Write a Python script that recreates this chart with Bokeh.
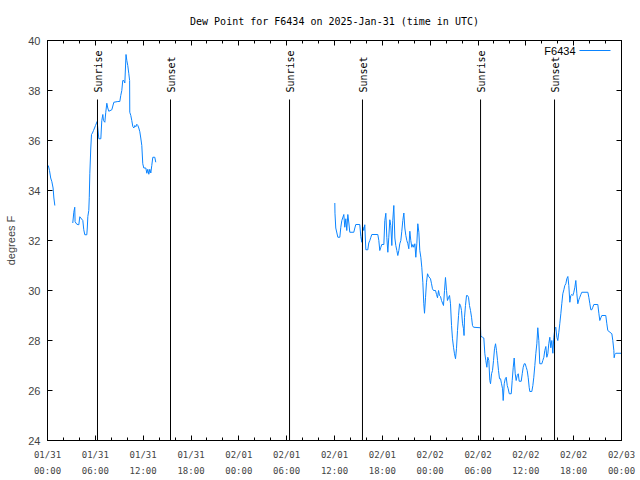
import math
from bokeh.plotting import figure
from bokeh.models import FixedTicker, LinearAxis
from bokeh.core.properties import value
from bokeh.embed import file_html
from bokeh.resources import INLINE

# ---- data (hours since 2025-01-31 00:00 UTC, dew point in degrees F) ----
seg1_hours = [0.10, 0.25, 0.40, 0.55, 0.70, 0.80, 0.92]
seg1_dew = [35.0, 34.8, 34.5, 34.35, 34.1, 33.7, 33.4]

seg2_hours = [3.17, 3.30, 3.42, 3.46, 3.68, 3.93, 4.05, 4.43, 4.55, 4.68,
              4.93, 4.99, 5.06, 5.18, 5.24, 5.31, 5.43, 5.52, 5.64, 5.77,
              5.90, 6.02, 6.23, 6.31, 6.44, 6.69, 6.81, 6.94, 7.02, 7.19,
              7.31, 7.44, 7.56, 7.69, 8.07, 8.32, 8.82, 9.07, 9.19, 9.32,
              9.44, 9.57, 9.70, 9.78, 9.85, 9.95, 10.07, 10.20, 10.30, 10.32,
              10.45, 10.57, 10.70, 10.83, 10.95, 11.08, 11.20, 11.33, 11.45, 11.58,
              11.70, 11.83, 11.95, 12.08, 12.33, 12.46, 12.58, 12.71, 12.83, 12.96,
              13.08, 13.21, 13.46, 13.58]
seg2_dew = [32.7, 33.13, 33.33, 32.75, 32.65, 32.63, 32.95, 32.8, 32.43, 32.23,
            32.23, 32.5, 32.96, 33.2, 33.73, 34.69, 35.7, 36.24, 36.3, 36.4,
            36.5, 36.6, 36.76, 36.5, 36.07, 36.07, 36.8, 37.04, 36.8, 36.73,
            37.13, 37.49, 37.3, 37.17, 37.23, 37.53, 37.56, 37.56, 37.8, 38.0,
            38.4, 38.4, 38.3, 38.9, 39.44, 39.2, 39.0, 38.67, 38.4, 37.13,
            37.0, 36.8, 36.56, 36.5, 36.6, 36.55, 36.65, 36.6, 36.5, 36.35,
            36.1, 35.8, 35.07, 34.9, 34.9, 34.69, 34.85, 34.65, 34.85, 34.7,
            35.0, 35.33, 35.33, 35.13]

seg3_hours = [36.04, 36.06, 36.16, 36.42, 36.67, 36.79, 36.92, 37.17, 37.29, 37.42,
              37.54, 37.67, 37.80, 37.92, 38.42, 38.55, 38.67, 39.17, 39.30, 39.43,
              39.55, 39.68, 39.80, 39.93, 40.18, 40.30, 40.43, 40.56, 40.68, 41.43,
              41.56, 41.68, 41.81, 41.93, 42.19, 42.31, 42.44, 42.56, 42.69, 42.81,
              42.94, 43.06, 43.19, 43.31, 43.44, 43.57, 43.69, 43.82, 43.94, 44.07,
              44.19, 44.32, 44.44, 44.57, 44.70, 44.82, 44.95, 45.07, 45.20, 45.32,
              45.45, 45.57, 45.70, 45.83, 45.95, 46.08, 46.20, 46.33, 46.45, 46.58,
              46.70, 46.83, 46.95, 47.08, 47.20, 47.29, 47.42, 47.54, 47.67, 47.79,
              48.04, 48.17, 48.29, 48.42, 48.67, 48.80, 48.92, 49.05, 49.17, 49.30,
              49.42, 49.55, 49.67, 49.80, 49.92, 50.05, 50.17, 50.30, 50.43, 50.55,
              50.68, 50.80, 50.93, 51.05, 51.18, 51.30, 51.43, 51.56, 51.68, 51.81,
              51.93, 52.06, 52.18, 52.25, 52.31, 52.43, 52.56, 52.68, 52.81, 52.93,
              53.06, 53.19, 53.31, 53.44, 54.31, 54.35, 54.57, 54.73, 54.86, 54.98,
              55.11, 55.23, 55.36, 55.48, 55.57, 55.70, 55.82, 55.95, 56.07, 56.20,
              56.32, 56.45, 56.57, 56.70, 56.83, 56.95, 57.08, 57.16, 57.29, 57.42,
              57.54, 57.67, 57.79, 57.92, 58.17, 58.29, 58.42, 58.54, 58.67, 58.79,
              58.92, 59.05, 59.17, 59.42, 59.55, 59.67, 59.80, 59.92, 60.05, 60.17,
              60.30, 60.42, 60.50, 60.75, 60.88, 61.00, 61.13, 61.25, 61.38, 61.50,
              61.63, 61.75, 62.01, 62.13, 62.26, 62.38, 62.51, 62.63, 62.76, 62.88,
              63.01, 63.13, 63.26, 63.39, 63.51, 63.64, 63.76, 63.89, 64.01, 64.14,
              64.26, 64.39, 64.51, 64.64, 64.77, 64.89, 65.02, 65.14, 65.27, 65.39,
              65.52, 65.64, 65.77, 65.89, 66.02, 66.15, 66.27, 66.40, 66.52, 66.65,
              66.77, 66.90, 67.02, 67.78, 67.90, 68.03, 68.15, 68.28, 68.40, 68.53,
              69.03, 69.16, 69.28, 69.41, 69.53, 70.03, 70.16, 70.28, 70.79, 70.91,
              71.04, 71.08, 71.16, 71.29, 71.96]
seg3_dew = [33.5, 33.09, 32.5, 32.13, 32.13, 32.53, 32.8, 33.04, 32.53, 32.87,
            32.4, 33.04, 32.7, 32.33, 32.33, 32.5, 32.64, 32.64, 32.16, 31.93,
            32.55, 32.4, 32.63, 31.63, 31.63, 31.9, 32.0, 32.13, 32.24, 32.24,
            32.0, 31.6, 31.73, 31.84, 31.84, 32.8, 33.09, 32.13, 31.53, 32.13,
            32.83, 32.6, 31.8, 32.8, 33.4, 32.1, 31.8, 31.6, 31.4, 31.6,
            31.87, 32.0, 32.37, 32.8, 33.1, 32.5, 32.2, 32.0, 31.87, 31.67,
            32.37, 32.0, 31.73, 31.84, 31.73, 31.87, 31.33, 31.89, 32.67, 32.33,
            31.6, 31.33, 30.93, 30.33, 29.47, 29.09, 29.73, 30.33, 30.67, 30.57,
            30.47, 30.27, 30.07, 30.0, 30.0, 29.84, 29.71, 30.0, 29.8, 29.76,
            29.6, 29.5, 29.4, 30.0, 30.52, 30.0, 29.6, 29.71, 29.8, 29.47,
            28.6, 28.07, 27.73, 27.47, 27.27, 27.67, 28.4, 29.0, 29.47, 29.4,
            29.2, 28.67, 28.47, 28.2, 28.93, 29.4, 29.8, 29.8, 29.73, 29.4,
            29.2, 28.93, 28.6, 28.53, 28.51, 28.17, 28.13, 28.1, 27.47, 27.2,
            26.93, 27.33, 27.2, 26.4, 26.27, 26.67, 26.8, 27.2, 27.67, 27.87,
            27.6, 27.2, 26.8, 26.47, 26.47, 26.27, 26.07, 25.6, 26.27, 26.47,
            26.53, 26.2, 26.07, 25.87, 25.87, 26.4, 26.93, 27.3, 26.67, 26.4,
            26.6, 26.67, 26.37, 26.37, 26.67, 26.93, 27.07, 27.07, 26.93, 26.8,
            26.51, 26.13, 25.96, 25.96, 26.2, 26.53, 27.0, 27.47, 27.87, 28.51,
            28.0, 27.07, 27.07, 27.2, 27.33, 27.6, 27.76, 27.33, 27.47, 27.87,
            28.13, 27.71, 28.0, 27.49, 28.13, 28.47, 28.53, 28.13, 28.0, 28.33,
            28.67, 29.07, 29.47, 29.87, 30.03, 30.2, 30.27, 30.47, 30.56, 30.2,
            29.53, 29.8, 29.84, 29.8, 29.93, 30.13, 30.4, 29.87, 29.47, 29.63,
            29.73, 29.84, 29.93, 29.93, 29.73, 29.47, 29.23, 29.23, 29.33, 29.44,
            29.44, 29.09, 28.8, 28.91, 29.0, 29.0, 28.67, 28.4, 28.27, 28.0,
            27.6, 27.31, 27.44, 27.49, 27.49]

sun_hours = [6.27, 15.43, 30.36, 39.51, 54.32, 63.60]
sun_labels = ["Sunrise", "Sunset", "Sunrise", "Sunset", "Sunrise", "Sunset"]
sun_line_top = 37.64

x_ticks = [0, 6, 12, 18, 24, 30, 36, 42, 48, 54, 60, 66, 72]
x_minor_ticks = list(range(0, 73, 2))
x_tick_labels = ["01/31\n00:00", "01/31\n06:00", "01/31\n12:00", "01/31\n18:00",
                 "02/01\n00:00", "02/01\n06:00", "02/01\n12:00", "02/01\n18:00",
                 "02/02\n00:00", "02/02\n06:00", "02/02\n12:00", "02/02\n18:00",
                 "02/03\n00:00"]
y_ticks = [24, 26, 28, 30, 32, 34, 36, 38, 40]

title_text = "Dew Point for F6434 on 2025-Jan-31 (time in UTC)"
y_label = "degrees F"
series_name = "F6434"

LINE_COLOR = "#0a84ff"
MONO = "DejaVu Sans Mono"
SANS = "Liberation Sans"

p = figure(width=640, height=480, output_backend="svg", toolbar_location=None,
           x_range=(0, 72), y_range=(24, 40),
           min_border_left=47, min_border_right=19, min_border_top=40, min_border_bottom=40)
p.background_fill_color = "white"
p.border_fill_color = "white"
p.outline_line_color = "black"
p.outline_line_width = 1
p.xgrid.visible = False
p.ygrid.visible = False

p.title.text = title_text
p.title.align = "center"
p.title.text_font = MONO
p.title.text_font_size = "10px"
p.title.text_font_style = "normal"
p.title.text_color = "black"
p.title.standoff = 27

xt = FixedTicker(ticks=x_ticks, minor_ticks=x_minor_ticks)
yt = FixedTicker(ticks=y_ticks, minor_ticks=[])

xa = p.xaxis[0]
xa.ticker = xt
xa.major_label_overrides = {t: lab for t, lab in zip(x_ticks, x_tick_labels)}
xa.major_label_text_font = MONO
xa.major_label_text_font_size = "9px"
xa.major_label_text_line_height = 1.6
xa.major_label_standoff = 9
xa.major_tick_in = 5
xa.major_tick_out = 0
xa.minor_tick_in = 3
xa.minor_tick_out = 0
xa.axis_line_color = "black"

ya = p.yaxis[0]
ya.ticker = yt
ya.major_label_text_font = SANS
ya.major_label_text_font_size = "11px"
ya.major_label_standoff = 7
ya.major_tick_in = 5
ya.major_tick_out = 0
ya.minor_tick_in = 0
ya.minor_tick_out = 0
ya.axis_label = y_label
ya.axis_label_text_font = SANS
ya.axis_label_text_font_size = "11px"
ya.axis_label_text_font_style = "normal"
ya.axis_label_standoff = 8

# mirrored tick marks on top and right (labels hidden)
top = LinearAxis(ticker=xt, major_label_text_color=None, major_label_text_font_size="8px",
                 major_label_standoff=0, major_tick_in=5, major_tick_out=0,
                 minor_tick_in=3, minor_tick_out=0)
right = LinearAxis(ticker=yt, major_label_text_color=None, major_label_text_font_size="8px",
                   major_label_standoff=0, major_tick_in=5, major_tick_out=0,
                   minor_tick_in=0, minor_tick_out=0)
p.add_layout(top, "above")
p.add_layout(right, "right")

# data series
for hx, dv in [(seg1_hours, seg1_dew), (seg2_hours, seg2_dew), (seg3_hours, seg3_dew)]:
    p.line(hx, dv, line_color=LINE_COLOR, line_width=1)

# sunrise / sunset markers
p.segment(x0=sun_hours, y0=[24] * len(sun_hours), x1=sun_hours,
          y1=[sun_line_top] * len(sun_hours), line_color="black", line_width=1)
p.text(x=sun_hours, y=[sun_line_top + 0.28] * len(sun_hours), text=sun_labels,
       angle=math.pi / 2, text_align="left", text_baseline="middle",
       text_font=value(MONO), text_font_size="10px", text_color="black", x_offset=1)

# legend (gnuplot style: label then line sample)
p.text(x=[66.23], y=[39.6], text=[series_name], text_align="right", text_baseline="middle",
       text_font=value(SANS), text_font_size="11px", text_color="black")
p.segment(x0=[66.73], y0=[39.6], x1=[70.62], y1=[39.6], line_color=LINE_COLOR, line_width=1)

open("out.html", "w").write(file_html(p, INLINE))
